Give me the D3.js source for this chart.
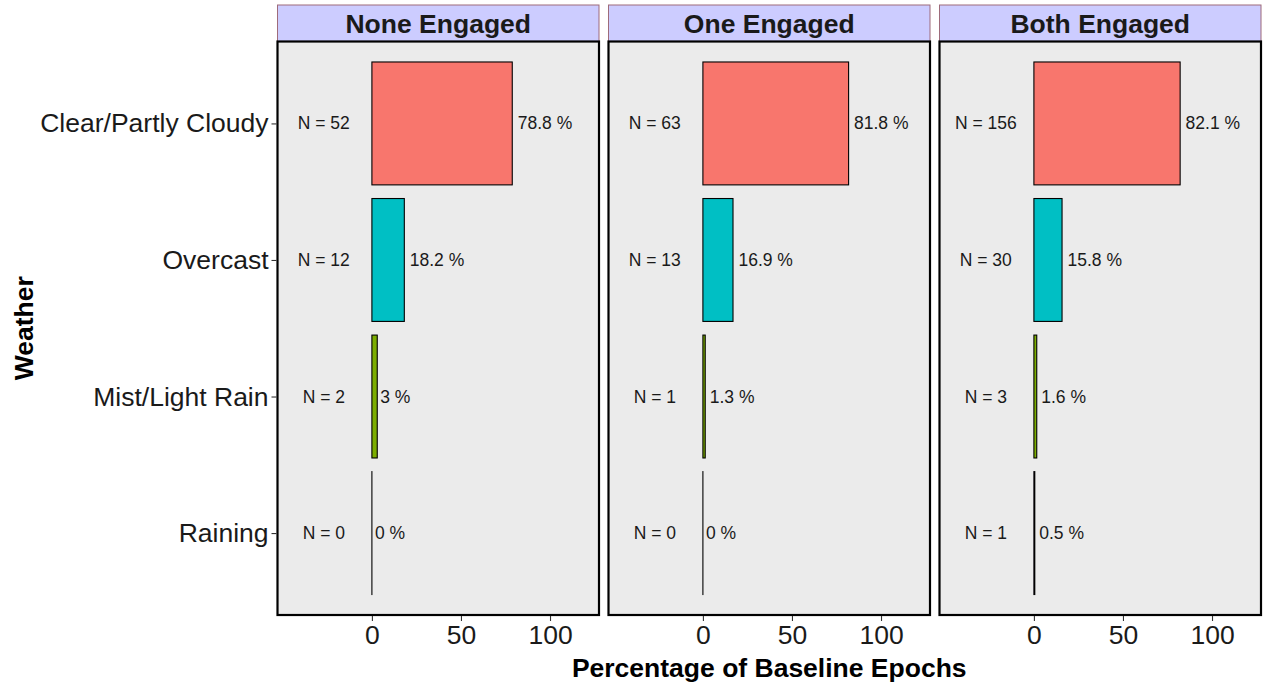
<!DOCTYPE html>
<html>
<head>
<meta charset="utf-8">
<script src="https://cdn.jsdelivr.net/npm/d3@7"></script>
<style>
  html, body { margin: 0; padding: 0; background: #ffffff; }
  svg { display: block; font-family: "Liberation Sans", Arial, sans-serif; }
</style>
</head>
<body>
<svg id="chart" width="1264" height="684"></svg>
<script>
// ---- Data ----
const categories = ["Clear/Partly Cloudy", "Overcast", "Mist/Light Rain", "Raining"];
const panels = ["None Engaged", "One Engaged", "Both Engaged"];
const pctNone = [78.8, 18.2, 3, 0];
const pctOne  = [81.8, 16.9, 1.3, 0];
const pctBoth = [82.1, 15.8, 1.6, 0.5];
const nNone = [52, 12, 2, 0];
const nOne  = [63, 13, 1, 0];
const nBoth = [156, 30, 3, 1];
const xTicks = [0, 50, 100];
const catColors = ["#F8766D", "#00BFC4", "#7CAE00", "#C77CFF"];
const nLabelX = -27;

const pctSeries = [pctNone, pctOne, pctBoth];
const nSeries = [nNone, nOne, nBoth];

// ---- Layout ----
const svg = d3.select("#chart");
const panelLefts = [277.5, 608.5, 939.5];
const panelW = 321.5;
const plotTop = 41.5, plotBottom = 615;
const stripTop = 5;

// discrete y scale with ggplot-like expansion (0.6 units each side), bar width 0.9
const y = d3.scalePoint()
  .domain(categories)
  .range([plotTop, plotBottom])
  .padding(0.6 / 0.6 * 0.6 + 0.0);
// scalePoint padding p gives outer offset = p * step; step = range/(n-1+2p)
y.padding(0.6);
const step = y.step();
const barH = step * 0.9;

const fontFam = "Liberation Sans, Arial, sans-serif";

panels.forEach((pName, p) => {
  const left = panelLefts[p];
  const x = d3.scaleLinear().domain([-53, 127.5]).range([left, left + panelW]);
  const g = svg.append("g");

  // strip
  g.append("rect")
    .attr("x", left).attr("y", stripTop)
    .attr("width", panelW).attr("height", plotTop - stripTop)
    .attr("fill", "#CCCCFF").attr("stroke", "#9e6b7a").attr("stroke-width", 1);
  g.append("text")
    .attr("x", left + panelW / 2).attr("y", (stripTop + plotTop) / 2 + 1)
    .attr("text-anchor", "middle").attr("dominant-baseline", "central")
    .attr("font-size", 26.5).attr("font-weight", "bold").attr("fill", "#1a1a1a")
    .text(pName);

  // panel background
  g.append("rect")
    .attr("x", left).attr("y", plotTop)
    .attr("width", panelW).attr("height", plotBottom - plotTop)
    .attr("fill", "#EBEBEB");

  const pcts = pctSeries[p], ns = nSeries[p];

  // bars
  categories.forEach((c, i) => {
    g.append("rect")
      .attr("x", x(0)).attr("y", y(c) - barH / 2)
      .attr("width", Math.max(0.001, x(pcts[i]) - x(0)))
      .attr("height", barH)
      .attr("fill", catColors[i])
      .attr("stroke", "#000").attr("stroke-width", 1.1);
  });

  // percent labels (hjust = -0.1)
  categories.forEach((c, i) => {
    const t = g.append("text")
      .attr("x", x(pcts[i])).attr("y", y(c))
      .attr("text-anchor", "start").attr("dominant-baseline", "central")
      .attr("font-size", 17.5).attr("fill", "#1a1a1a")
      .text(`${pcts[i]} %`);
    const w = t.node().getComputedTextLength();
    t.attr("dx", 0.1 * w);
  });

  // N labels
  categories.forEach((c, i) => {
    g.append("text")
      .attr("x", x(nLabelX)).attr("y", y(c))
      .attr("text-anchor", "middle").attr("dominant-baseline", "central")
      .attr("font-size", 17.5).attr("fill", "#1a1a1a")
      .text(`N = ${ns[i]}`);
  });

  // panel border
  g.append("rect")
    .attr("x", left).attr("y", plotTop)
    .attr("width", panelW).attr("height", plotBottom - plotTop)
    .attr("fill", "none").attr("stroke", "#000").attr("stroke-width", 2.2);

  // x axis
  const xAxis = d3.axisBottom(x).tickValues(xTicks).tickSize(5).tickPadding(4).tickFormat(d3.format("d"));
  const ax = g.append("g").attr("transform", `translate(0,${plotBottom + 1})`).call(xAxis);
  ax.select(".domain").remove();
  ax.selectAll(".tick line").attr("stroke", "#333").attr("stroke-width", 1.1);
  ax.selectAll(".tick text").attr("font-size", 26.5).attr("fill", "#1a1a1a")
    .attr("font-family", fontFam);

  // y axis on first panel
  if (p === 0) {
    const yAxis = d3.axisLeft(y).tickSize(5).tickPadding(3);
    const ay = g.append("g").attr("transform", `translate(${left - 1},0)`).call(yAxis);
    ay.select(".domain").remove();
    ay.selectAll(".tick line").attr("stroke", "#333").attr("stroke-width", 1.1);
    ay.selectAll(".tick text").attr("font-size", 26.5).attr("fill", "#1a1a1a")
      .attr("font-family", fontFam);
  }
});

// axis titles
svg.append("text")
  .attr("x", (panelLefts[0] + panelLefts[2] + panelW) / 2).attr("y", 677)
  .attr("text-anchor", "middle")
  .attr("font-size", 26.5).attr("font-weight", "bold").attr("fill", "#000")
  .text("Percentage of Baseline Epochs");

svg.append("text")
  .attr("transform", `translate(33,${(plotTop + plotBottom) / 2}) rotate(-90)`)
  .attr("text-anchor", "middle")
  .attr("font-size", 26.5).attr("font-weight", "bold").attr("fill", "#000")
  .text("Weather");
</script>
</body>
</html>
